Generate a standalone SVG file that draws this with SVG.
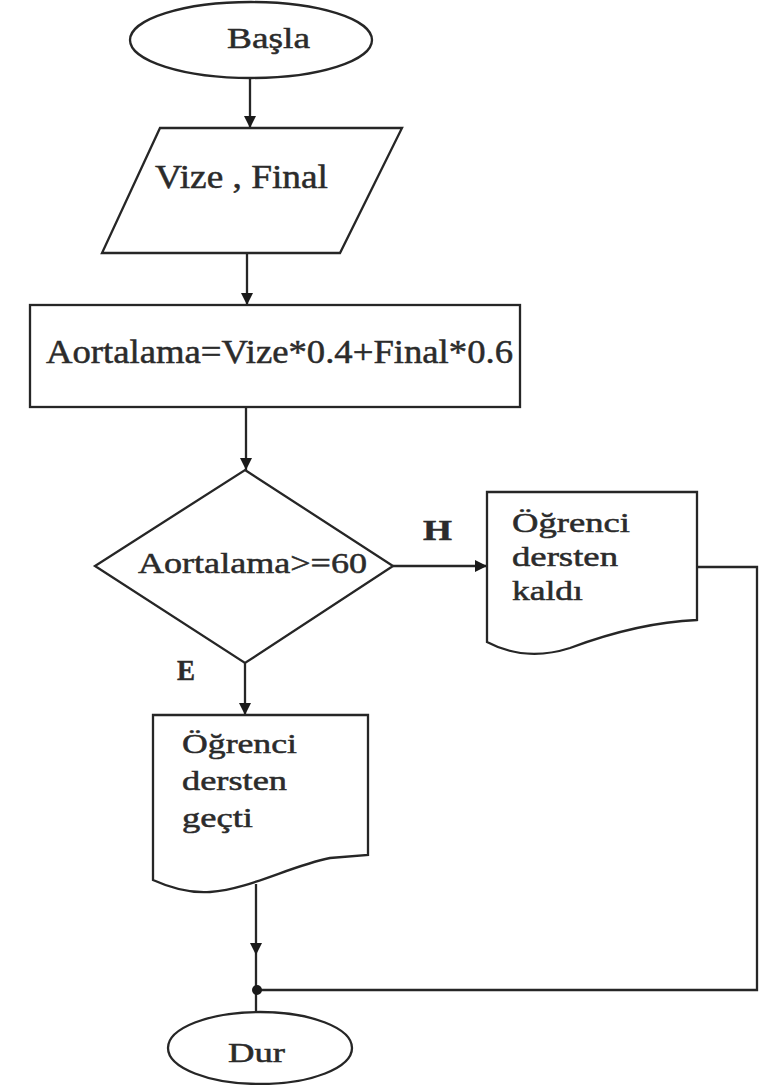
<svg xmlns="http://www.w3.org/2000/svg" width="768" height="1085" viewBox="0 0 768 1085">
  <style>
    .shape { fill: #ffffff; stroke: #262626; stroke-width: 2.3; }
    .wire { fill: none; stroke: #262626; stroke-width: 2.3; }
    text { font-family: "Liberation Serif", "DejaVu Serif", "Times New Roman", serif; fill: #2b2b2b; stroke: #2b2b2b; stroke-width: 0.5; }
    .flag { font-weight: bold; }
  </style>
  <defs>
    <marker id="head" markerUnits="userSpaceOnUse" markerWidth="14" markerHeight="14" refX="12" refY="6" orient="auto">
      <path d="M0,0 L12,6 L0,12 Z" fill="#1a1a1a"/>
    </marker>
  </defs>
  <rect width="768" height="1085" fill="#ffffff"/>

  <!-- connectors -->
  <g id="connectors">
    <line class="wire" x1="250" y1="78" x2="250" y2="128" marker-end="url(#head)"/>
    <line class="wire" x1="247" y1="253" x2="247" y2="305" marker-end="url(#head)"/>
    <line class="wire" x1="246" y1="407" x2="246" y2="470" marker-end="url(#head)"/>
    <line class="wire" x1="393" y1="566" x2="487" y2="566" marker-end="url(#head)"/>
    <line class="wire" x1="245" y1="663" x2="245" y2="715" marker-end="url(#head)"/>
    <!-- pass branch down to the merge point -->
    <line class="wire" x1="256" y1="884" x2="256" y2="955" marker-end="url(#head)"/>
    <line class="wire" x1="256" y1="955" x2="256" y2="1012"/>
    <!-- fail branch loops round to the merge point -->
    <polyline class="wire" points="697,567 757,567 757,990 256,990"/>
    <circle cx="257" cy="990" r="5" fill="#1a1a1a"/>
    <text class="flag" font-family="Liberation Serif, serif" x="423" y="540" font-size="30" textLength="29" lengthAdjust="spacingAndGlyphs">H</text>
    <text class="flag" font-family="Liberation Serif, serif" x="177" y="680" font-size="30" textLength="18" lengthAdjust="spacingAndGlyphs">E</text>
  </g>

  <!-- start -->
  <g id="start">
    <ellipse class="shape" cx="251" cy="40" rx="121" ry="38"/>
    <text font-family="Liberation Serif, serif" x="227" y="48" font-size="30" textLength="83" lengthAdjust="spacingAndGlyphs">Başla</text>
  </g>

  <!-- input -->
  <g id="input">
    <polygon class="shape" points="160,128 402,128 340,253 102,253"/>
    <text font-family="Liberation Serif, serif" x="155" y="188" font-size="34" textLength="173" lengthAdjust="spacingAndGlyphs">Vize , Final</text>
  </g>

  <!-- average -->
  <g id="average">
    <rect class="shape" x="30" y="305" width="490" height="102"/>
    <text font-family="Liberation Serif, serif" x="46" y="363" font-size="34" textLength="467" lengthAdjust="spacingAndGlyphs">Aortalama=Vize*0.4+Final*0.6</text>
  </g>

  <!-- decision -->
  <g id="decision">
    <polygon class="shape" points="245,470 393,566 245,663 95,566"/>
    <text font-family="Liberation Serif, serif" x="138" y="573" font-size="30" textLength="229" lengthAdjust="spacingAndGlyphs">Aortalama&gt;=60</text>
  </g>

  <!-- failed -->
  <g id="failed">
    <path class="shape" d="M487,492 L697,492 L697,620 C650,622 610,633 570,648 C545,656 515,657 487,642 Z"/>
    <text font-family="Liberation Serif, serif" x="512" y="532" font-size="27" textLength="118" lengthAdjust="spacingAndGlyphs">Öğrenci</text>
    <text font-family="Liberation Serif, serif" x="512" y="566" font-size="27" textLength="106" lengthAdjust="spacingAndGlyphs">dersten</text>
    <text font-family="Liberation Serif, serif" x="512" y="600" font-size="27" textLength="71" lengthAdjust="spacingAndGlyphs">kaldı</text>
  </g>

  <!-- passed -->
  <g id="passed">
    <path class="shape" d="M153,715 L368,715 L368,855 L330,858 C290,866 250,889 210,892 C195,893 175,890 153,880 Z"/>
    <text font-family="Liberation Serif, serif" x="182" y="753" font-size="27" textLength="115" lengthAdjust="spacingAndGlyphs">Öğrenci</text>
    <text font-family="Liberation Serif, serif" x="182" y="790" font-size="27" textLength="105" lengthAdjust="spacingAndGlyphs">dersten</text>
    <text font-family="Liberation Serif, serif" x="182" y="827" font-size="27" textLength="71" lengthAdjust="spacingAndGlyphs">geçti</text>
  </g>

  <!-- end -->
  <g id="end">
    <ellipse class="shape" cx="260" cy="1048" rx="92" ry="36"/>
    <text font-family="Liberation Serif, serif" x="228" y="1062" font-size="27" textLength="57" lengthAdjust="spacingAndGlyphs">Dur</text>
  </g>
</svg>
